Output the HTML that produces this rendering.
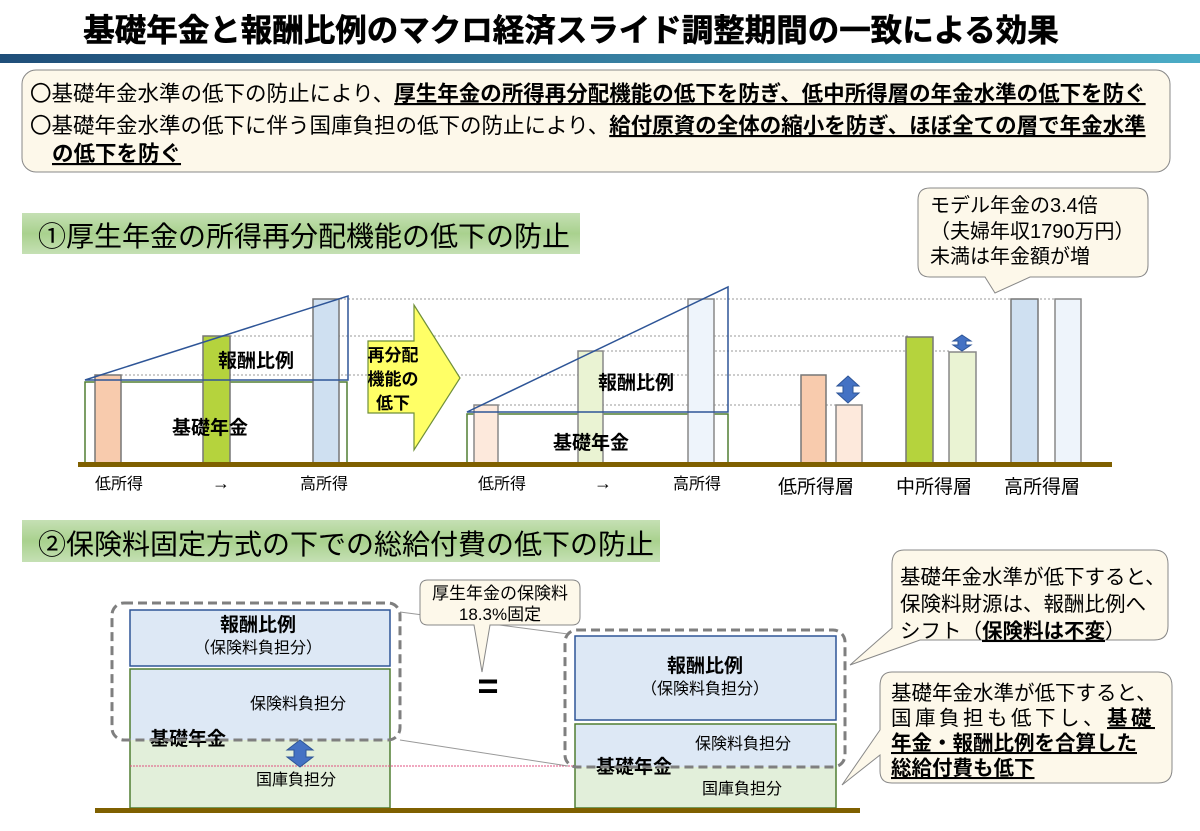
<!DOCTYPE html>
<html><head><meta charset="utf-8"><style>
html,body{margin:0;padding:0;background:#fff;}
svg{display:block;font-family:"Liberation Sans","Noto Sans CJK JP",sans-serif;}
.b{font-weight:bold;}
</style></head><body>
<svg width="1200" height="831" viewBox="0 0 1200 831" xmlns="http://www.w3.org/2000/svg">
<defs>
<linearGradient id="hb" x1="0" x2="1"><stop offset="0" stop-color="#1f4e79"/><stop offset="1" stop-color="#4bacc6"/></linearGradient>
<linearGradient id="gb" x1="0" x2="0" y1="0" y2="1"><stop offset="0" stop-color="#c5e0b4"/><stop offset="0.5" stop-color="#a9d18e"/><stop offset="1" stop-color="#c5e0b4"/></linearGradient>
</defs>
<text x="571" y="41" font-size="31.5" class="b" text-anchor="middle" fill="#000" stroke="#000" stroke-width="0.6">基礎年金と報酬比例のマクロ経済スライド調整期間の一致による効果</text>
<rect x="0" y="54" width="1200" height="9" fill="url(#hb)"/>
<rect x="22" y="70" width="1148" height="102" rx="14" fill="#fdf8ea" stroke="#888"/>
<g font-size="21.5" fill="#000">
<text x="30" y="101">〇基礎年金水準の低下の防止により、<tspan class="b" text-decoration="underline">厚生年金の所得再分配機能の低下を防ぎ、低中所得層の年金水準の低下を防ぐ</tspan></text>
<text x="30" y="133">〇基礎年金水準の低下に伴う国庫負担の低下の防止により、<tspan class="b" text-decoration="underline">給付原資の全体の縮小を防ぎ、ほぼ全ての層で年金水準</tspan></text>
<text x="52" y="161" class="b" text-decoration="underline">の低下を防ぐ</text>
</g>
<rect x="22" y="213" width="558" height="41" fill="url(#gb)"/>
<text x="38" y="246" font-size="28" fill="#000">①厚生年金の所得再分配機能の低下の防止</text>
<path d="M930,188 H1136 Q1148,188 1148,200 V265 Q1148,277 1136,277 H1030 L995,293 L985,277 H930 Q918,277 918,265 V200 Q918,188 930,188 Z" fill="#fdf8ea" stroke="#888"/>
<g font-size="20" fill="#000"><text x="930" y="212">モデル年金の3.4倍</text><text x="930" y="238">（夫婦年収1790万円）</text><text x="930" y="263">未満は年金額が増</text></g>
<g stroke="#999" stroke-dasharray="2,2" stroke-width="1">
<line x1="340" y1="299" x2="1060" y2="299"/>
<line x1="230" y1="336" x2="910" y2="336"/>
<line x1="121" y1="375" x2="800" y2="375"/>
<line x1="498" y1="405" x2="840" y2="405"/>
<line x1="603" y1="351" x2="950" y2="351"/>
</g>
<rect x="85" y="382" width="262" height="82" fill="none" stroke="#507e32" stroke-width="1.5"/>
<rect x="95" y="375" width="26" height="89" fill="#f8cbad" stroke="#777" stroke-width="1.5"/>
<rect x="203" y="336" width="27" height="128" fill="#b5d33d" stroke="#777" stroke-width="1.5"/>
<rect x="313" y="299" width="26" height="165" fill="#cfe0f1" stroke="#777" stroke-width="1.5"/>
<path d="M85,380 L348,296 L348,380 Z" fill="none" stroke="#2e5597" stroke-width="1.5"/>
<text x="218" y="367" font-size="19" class="b">報酬比例</text>
<text x="172" y="434" font-size="19" class="b">基礎年金</text>
<path d="M368,341 H414 V305 L460,378 L414,450 V413 H368 Z" fill="#ffff66" stroke="#6f8f3a" stroke-width="1.2"/>
<g font-size="17" class="b" text-anchor="middle"><text x="393" y="361">再分配</text><text x="393" y="385">機能の</text><text x="393" y="409">低下</text></g>
<rect x="467" y="414" width="261" height="50" fill="none" stroke="#507e32" stroke-width="1.5"/>
<rect x="474" y="405" width="24" height="59" fill="#fde9dc" stroke="#888" stroke-width="1.5"/>
<rect x="578" y="351" width="25" height="113" fill="#eaf3d3" stroke="#888" stroke-width="1.5"/>
<rect x="688" y="299" width="26" height="165" fill="#eef4fb" stroke="#888" stroke-width="1.5"/>
<path d="M467,412 L728,287 L728,412 Z" fill="none" stroke="#2e5597" stroke-width="1.5"/>
<text x="598" y="389" font-size="19" class="b">報酬比例</text>
<text x="553" y="449" font-size="19" class="b">基礎年金</text>
<rect x="801" y="375" width="25" height="89" fill="#f8cbad" stroke="#777" stroke-width="1.5"/>
<rect x="836" y="405" width="26" height="59" fill="#fde9dc" stroke="#888" stroke-width="1.5"/>
<rect x="906" y="337" width="27" height="127" fill="#b5d33d" stroke="#777" stroke-width="1.5"/>
<rect x="949" y="352" width="27" height="112" fill="#eaf3d3" stroke="#888" stroke-width="1.5"/>
<rect x="1011" y="299" width="27" height="165" fill="#cfe0f1" stroke="#777" stroke-width="1.5"/>
<rect x="1055" y="299" width="26" height="165" fill="#eef4fb" stroke="#888" stroke-width="1.5"/>
<path d="M848,376 L859,386 H853 V393 H859 L848,403 L837,393 H843 V386 H837 Z" fill="#4472c4" stroke="#2e5597"/>
<path d="M962,335 L971,341 H966 V345 H971 L962,351 L953,345 H958 V341 H953 Z" fill="#4472c4" stroke="#2e5597"/>
<rect x="78" y="462" width="1034" height="5" fill="#7f6000"/>
<g font-size="16"><text x="95" y="489">低所得</text><text x="212" y="489" font-size="18">→</text><text x="300" y="489">高所得</text>
<text x="478" y="489">低所得</text><text x="594" y="489" font-size="18">→</text><text x="673" y="489">高所得</text></g>
<g font-size="19"><text x="778" y="493">低所得層</text><text x="896" y="493">中所得層</text><text x="1004" y="493">高所得層</text></g>
<rect x="22" y="520" width="638" height="42" fill="url(#gb)"/>
<text x="38" y="554" font-size="28" fill="#000">②保険料固定方式の下での総給付費の低下の防止</text>
<rect x="130" y="610" width="260" height="56" fill="#dde8f5" stroke="#2e5597" stroke-width="1.5"/>
<rect x="130" y="669" width="260" height="71" fill="#dde8f5"/>
<rect x="130" y="740" width="260" height="68" fill="#e2efda"/>
<rect x="130" y="669" width="260" height="139" fill="none" stroke="#507e32" stroke-width="1.5"/>
<line x1="130" y1="766" x2="575" y2="766" stroke="#e05080" stroke-dasharray="2,1" stroke-width="1"/>
<text x="258" y="631" font-size="19" class="b" text-anchor="middle">報酬比例</text>
<text x="258" y="653" font-size="16" text-anchor="middle">（保険料負担分）</text>
<text x="250" y="709" font-size="16">保険料負担分</text>
<text x="150" y="745" font-size="19" class="b">基礎年金</text>
<text x="256" y="785" font-size="16">国庫負担分</text>
<path d="M300,740 L313,750 H306 V757 H313 L300,767 L287,757 H294 V750 H287 Z" fill="#4472c4" stroke="#2e5597"/>
<rect x="112" y="603" width="288" height="137" rx="12" fill="none" stroke="#7f7f7f" stroke-width="3" stroke-dasharray="9,5"/>
<line x1="400" y1="612" x2="568" y2="634" stroke="#999" stroke-width="1"/>
<line x1="400" y1="740" x2="568" y2="766" stroke="#999" stroke-width="1"/>
<path d="M428,580 H572 Q580,580 580,588 V617 Q580,625 572,625 H490 L482,672 L474,625 H428 Q420,625 420,617 V588 Q420,580 428,580 Z" fill="#fdf8ea" stroke="#888"/>
<text x="500" y="599" font-size="17" text-anchor="middle">厚生年金の保険料</text>
<text x="500" y="620" font-size="17" text-anchor="middle">18.3%固定</text>
<text x="488" y="698" font-size="36" class="b" text-anchor="middle">=</text>
<rect x="575" y="636" width="261" height="84" fill="#dde8f5" stroke="#2e5597" stroke-width="1.5"/>
<rect x="575" y="724" width="261" height="43" fill="#dde8f5"/>
<rect x="575" y="767" width="261" height="41" fill="#e2efda"/>
<rect x="575" y="724" width="261" height="84" fill="none" stroke="#507e32" stroke-width="1.5"/>
<text x="705" y="672" font-size="19" class="b" text-anchor="middle">報酬比例</text>
<text x="705" y="694" font-size="16" text-anchor="middle">（保険料負担分）</text>
<text x="695" y="749" font-size="16">保険料負担分</text>
<text x="596" y="773" font-size="19" class="b">基礎年金</text>
<text x="702" y="794" font-size="16">国庫負担分</text>
<rect x="565" y="630" width="280" height="137" rx="12" fill="none" stroke="#7f7f7f" stroke-width="3" stroke-dasharray="9,5"/>
<rect x="95" y="808" width="765" height="5" fill="#7f6000"/>
<path d="M904,550 H1154 Q1168,550 1168,564 V626 Q1168,640 1154,640 H920 L850,665 L892,628 V564 Q892,550 904,550 Z" fill="#fdf8ea" stroke="#888"/>
<g font-size="20.5"><text x="900" y="584">基礎年金水準が低下すると、</text><text x="900" y="611">保険料財源は、報酬比例へ</text><text x="900" y="638">シフト（<tspan class="b" text-decoration="underline">保険料は不変</tspan>）</text></g>
<path d="M892,672 H1158 Q1172,672 1172,686 V769 Q1172,783 1158,783 H892 Q880,783 880,771 V755 L842,785 L880,730 V686 Q880,672 892,672 Z" fill="#fdf8ea" stroke="#888"/>
<g font-size="20.5"><text x="891" y="700">基礎年金水準が低下すると、</text><text x="891" y="725" letter-spacing="3.5">国庫負担も低下し、<tspan class="b" text-decoration="underline">基礎</tspan></text><text x="891" y="750" class="b" text-decoration="underline">年金・報酬比例を合算した</text><text x="891" y="775" class="b" text-decoration="underline">総給付費も低下</text></g>
</svg>
</body></html>
